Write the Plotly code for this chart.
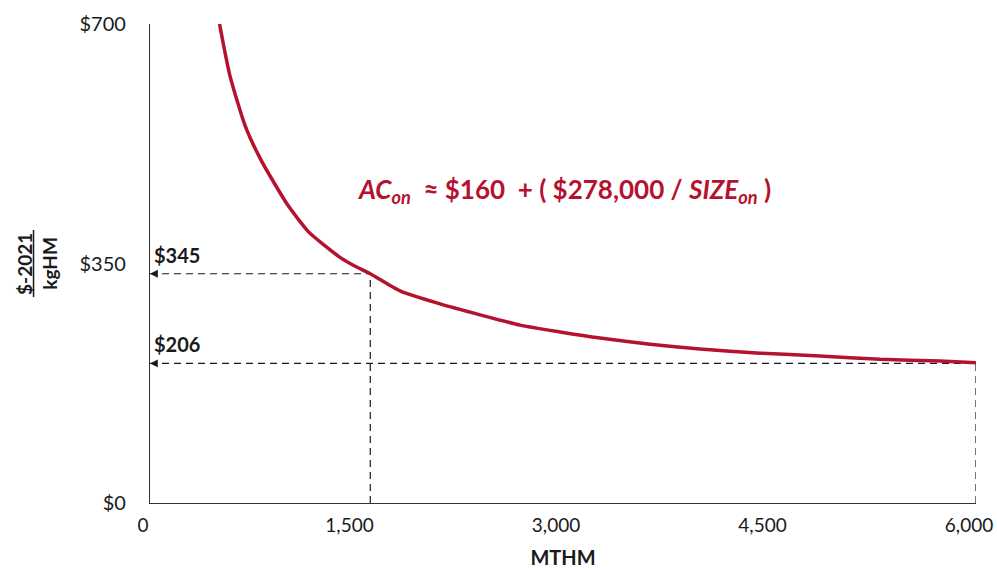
import plotly.graph_objects as go

# Data
mthm = [505, 580, 690, 799, 901, 1002, 1148, 1270, 1380, 1490, 1600, 1816, 2107, 2397, 2688,
        2978, 3269, 3632, 3995, 4431, 4867, 5303, 5739, 6000]
cost = [700, 625, 552, 504, 468, 435, 397, 376, 359, 346, 335, 310, 291, 275, 260,
        250, 241, 232, 225, 219, 215, 210, 207.5, 205]

x_ticks = [0, 1500, 3000, 4500, 6000]
x_tick_labels = ["0", "1,500", "3,000", "4,500", "6,000"]
y_ticks = [0, 350, 700]
y_tick_labels = ["$0", "$350", "$700"]

ref_points = [(1600, 335, "$345"), (6000, 204, "$206")]

RED = "#b5122e"
INK = "#1a1a1a"
FONT = "Lato"

fig = go.Figure()
fig.add_trace(go.Scatter(x=mthm, y=cost, mode="lines",
                         line=dict(color=RED, width=3.5, shape="spline", smoothing=0.6),
                         hoverinfo="skip", showlegend=False))

shapes = []
annotations = []
for xv, yv, lab in ref_points:
    shapes.append(dict(type="line", xref="x", yref="y", x0=0, x1=xv, y0=yv, y1=yv,
                       line=dict(color=INK, width=1.2, dash="7px,5px"), layer="below"))
    shapes.append(dict(type="line", xref="x", yref="y", x0=xv, x1=xv, y0=0, y1=yv,
                       line=dict(color=INK, width=1.2, dash="7px,5px"), layer="below"))
    annotations.append(dict(x=0, y=yv, ax=60, ay=yv, axref="x", ayref="y",
                            xref="x", yref="y", text="", showarrow=True,
                            arrowhead=2, arrowsize=1.3, arrowwidth=1.2,
                            arrowcolor=INK))
    annotations.append(dict(x=0, y=yv, xref="x", yref="y", text="<b>%s</b>" % lab,
                            showarrow=False, xanchor="left", yanchor="bottom",
                            xshift=2, yshift=5,
                            font=dict(family=FONT, size=20, color=INK)))

# Equation
annotations.append(dict(
    x=0.501, y=0.652, xref="paper", yref="paper", showarrow=False,
    text="<b><i>AC<sub>on</sub></i>  ≈ $160  + ( $278,000 / <i>SIZE<sub>on</sub></i> )</b>",
    font=dict(family=FONT, size=26, color=RED), xanchor="center", yanchor="middle"))

# Y axis title as fraction
annotations.append(dict(x=-0.152, y=0.5, xref="paper", yref="paper", showarrow=False,
                        text="<b>$-2021</b>", textangle=-90,
                        font=dict(family=FONT, size=19, color=INK),
                        xanchor="center", yanchor="middle"))
annotations.append(dict(x=-0.122, y=0.5, xref="paper", yref="paper", showarrow=False,
                        text="<b>kgHM</b>", textangle=-90,
                        font=dict(family=FONT, size=19, color=INK),
                        xanchor="center", yanchor="middle"))
shapes.append(dict(type="line", xref="paper", yref="paper", x0=-0.1410, x1=-0.1410,
                   y0=0.430, y1=0.570, line=dict(color=INK, width=1.5)))

fig.update_layout(
    width=997, height=569,
    margin=dict(l=150, r=21, t=24, b=66, autoexpand=False),
    paper_bgcolor="white", plot_bgcolor="white",
    shapes=shapes, annotations=annotations,
    xaxis=dict(range=[0, 6000], tickvals=x_ticks, ticktext=x_tick_labels,
               showgrid=False, zeroline=False, showline=True, linecolor="#333",
               linewidth=1.2, ticks="", ticklabelstandoff=5, automargin=False,
               ticklabelshift=-7, ticklabeloverflow="allow",
               tickfont=dict(family=FONT, size=19, color=INK),
               title=dict(text="<b>MTHM</b>", font=dict(family=FONT, size=20, color=INK),
                          standoff=27)),
    yaxis=dict(range=[0, 700], tickvals=y_ticks, ticktext=y_tick_labels,
               showgrid=False, zeroline=False, showline=True, linecolor="#333",
               linewidth=1.2, ticks="", ticklabelstandoff=19, automargin=False,
               ticklabeloverflow="allow",
               tickfont=dict(family=FONT, size=20, color=INK)),
)

fig.write_html("out.html", config={"displayModeBar": False},
               post_script="document.body.style.margin='0';")
